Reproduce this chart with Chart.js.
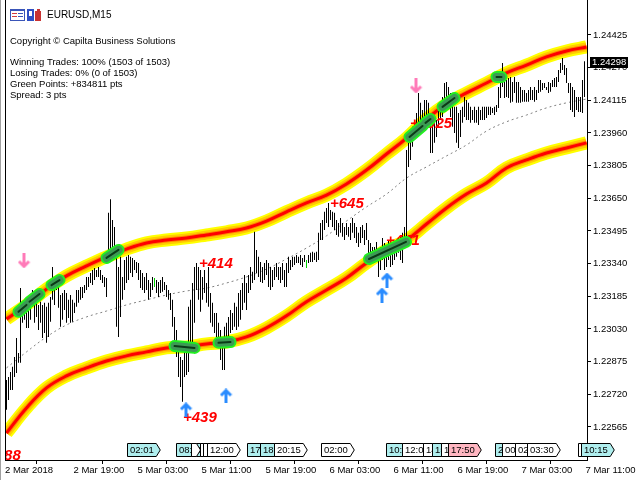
<!DOCTYPE html>
<html>
<head>
<meta charset="utf-8">
<script src="https://cdn.jsdelivr.net/npm/chart.js@4.4.0/dist/chart.umd.min.js"></script>
<style>
  html, body { margin: 0; padding: 0; background: #fff; }
  #wrap { width: 640px; height: 480px; position: relative; }
</style>
</head>
<body>
<div id="wrap"><canvas id="chart" width="640" height="480"></canvas></div>
<script>
const symbolTitle = 'EURUSD,M15';
const copyrightLine = 'Copyright \u00a9 Capilta Business Solutions';
const infoLines = ['Winning Trades: 100% (1503 of 1503)', 'Losing Trades: 0% (0 of 1503)', 'Green Points: +834811 pts', 'Spread: 3 pts'];

// M15 bars, index 0 = 2 Mar 11:00
const barHigh = [1.22788,1.22802,1.22826,1.22850,1.22897,1.22987,1.22916,1.23224,1.23154,1.23168,
 1.23135,1.23182,1.23154,1.23215,1.23201,1.23168,1.23144,1.23159,1.23144,1.23154,
 1.23135,1.23154,1.23182,1.23324,1.23272,1.23277,1.23229,1.23191,1.23201,1.23215,
 1.23201,1.23168,1.23191,1.23168,1.23154,1.23215,1.23215,1.23229,1.23229,1.23238,
 1.23277,1.23277,1.23296,1.23310,1.23319,1.23310,1.23324,1.23310,1.23286,1.23277,
 1.23272,1.23581,1.23646,1.23547,1.23514,1.23391,1.23324,1.23372,1.23277,1.23357,
 1.23372,1.23381,1.23372,1.23367,1.23357,1.23348,1.23343,1.23310,1.23296,1.23277,
 1.23296,1.23262,1.23248,1.23277,1.23272,1.23262,1.23253,1.23262,1.23277,1.23253,
 1.23238,1.23215,1.23201,1.23168,1.23087,1.23025,1.22964,1.22897,1.22883,1.22930,
 1.22964,1.23135,1.23168,1.23248,1.23324,1.23343,1.23324,1.23310,1.23277,1.23310,
 1.23248,1.23324,1.23201,1.23154,1.23106,1.23106,1.23059,1.23025,1.22992,1.23040,
 1.23059,1.23087,1.23120,1.23106,1.23154,1.23135,1.23201,1.23215,1.23248,1.23286,
 1.23248,1.23286,1.23324,1.23301,1.23491,1.23405,1.23372,1.23348,1.23324,1.23343,
 1.23357,1.23343,1.23324,1.23310,1.23324,1.23343,1.23324,1.23324,1.23343,1.23310,
 1.23343,1.23372,1.23357,1.23372,1.23372,1.23381,1.23372,1.23381,1.23367,1.23381,
 1.23357,1.23381,1.23391,1.23396,1.23391,1.23396,1.23486,1.23533,1.23547,1.23586,
 1.23604,1.23628,1.23595,1.23586,1.23581,1.23547,1.23533,1.23557,1.23533,1.23514,
 1.23533,1.23514,1.23533,1.23557,1.23533,1.23514,1.23486,1.23514,1.23523,1.23500,
 1.23533,1.23452,1.23438,1.23419,1.23419,1.23443,1.23405,1.23419,1.23462,1.23438,
 1.23419,1.23452,1.23419,1.23438,1.23443,1.23452,1.23462,1.23467,1.23486,1.23514,
 1.23879,1.23913,1.23960,1.23989,1.24022,1.24055,1.24150,1.24103,1.24069,1.24117,
 1.24117,1.24103,1.24055,1.24008,1.24036,1.24022,1.24069,1.24103,1.24131,1.24197,
 1.24202,1.24178,1.24150,1.24103,1.24084,1.24084,1.24055,1.24069,1.24084,1.24131,
 1.24117,1.24103,1.24084,1.24069,1.24084,1.24069,1.24084,1.24069,1.24084,1.24084,
 1.24084,1.24084,1.24084,1.24079,1.24084,1.24093,1.24178,1.24245,1.24292,1.24226,
 1.24211,1.24221,1.24226,1.24202,1.24226,1.24202,1.24202,1.24178,1.24164,1.24164,
 1.24150,1.24164,1.24178,1.24164,1.24178,1.24164,1.24211,1.24211,1.24197,1.24197,
 1.24178,1.24202,1.24197,1.24211,1.24221,1.24226,1.24259,1.24292,1.24316,1.24282,
 1.24268,1.24197,1.24197,1.24178,1.24164,1.24131,1.24131,1.24131,1.24211,1.24300];
const barLow = [1.22646,1.22693,1.22740,1.22740,1.22802,1.22821,1.22869,1.22869,1.23059,1.23073,
 1.23035,1.23035,1.23073,1.23135,1.23059,1.23087,1.23025,1.23059,1.22987,1.23011,
 1.22964,1.22992,1.23064,1.23168,1.23144,1.23215,1.23130,1.23040,1.23073,1.23120,
 1.23059,1.23082,1.23059,1.23064,1.23106,1.23135,1.23154,1.23168,1.23177,1.23201,
 1.23215,1.23229,1.23248,1.23238,1.23262,1.23277,1.23277,1.23262,1.23248,1.23229,
 1.23182,1.23357,1.23372,1.23405,1.23391,1.23040,1.22992,1.23087,1.23168,1.23215,
 1.23248,1.23262,1.23296,1.23277,1.23310,1.23296,1.23262,1.23224,1.23215,1.23201,
 1.23215,1.23168,1.23182,1.23215,1.23229,1.23201,1.23182,1.23201,1.23206,1.23215,
 1.23182,1.23168,1.23120,1.23040,1.22945,1.22897,1.22802,1.22755,1.22684,1.22802,
 1.22811,1.22826,1.22945,1.22945,1.23059,1.23215,1.23168,1.23111,1.23168,1.23201,
 1.23154,1.23135,1.23059,1.23040,1.23011,1.22992,1.22945,1.22883,1.22835,1.22835,
 1.22945,1.22978,1.23011,1.23025,1.23040,1.23025,1.23040,1.23073,1.23120,1.23154,
 1.23120,1.23201,1.23215,1.23248,1.23262,1.23296,1.23277,1.23253,1.23248,1.23262,
 1.23286,1.23229,1.23215,1.23229,1.23262,1.23277,1.23262,1.23248,1.23262,1.23229,
 1.23229,1.23296,1.23310,1.23324,1.23333,1.23343,1.23343,1.23333,1.23324,1.23348,
 1.23319,1.23343,1.23348,1.23348,1.23357,1.23348,1.23357,1.23452,1.23452,1.23500,
 1.23533,1.23514,1.23547,1.23514,1.23500,1.23476,1.23467,1.23486,1.23467,1.23452,
 1.23476,1.23467,1.23452,1.23486,1.23462,1.23438,1.23419,1.23438,1.23462,1.23428,
 1.23452,1.23372,1.23367,1.23348,1.23343,1.23357,1.23277,1.23310,1.23357,1.23310,
 1.23324,1.23357,1.23324,1.23333,1.23357,1.23372,1.23391,1.23357,1.23343,1.23419,
 1.23452,1.23799,1.23832,1.23894,1.23927,1.23941,1.23989,1.23989,1.23960,1.23974,
 1.23989,1.24008,1.23865,1.23865,1.23913,1.23941,1.23989,1.24022,1.24036,1.24084,
 1.24103,1.24103,1.24036,1.23989,1.23960,1.23913,1.23889,1.23941,1.24008,1.24036,
 1.24022,1.24022,1.24008,1.24022,1.24008,1.24008,1.23998,1.24022,1.24022,1.24022,
 1.24031,1.24045,1.24045,1.24055,1.24045,1.24060,1.24079,1.24126,1.24178,1.24126,
 1.24131,1.24126,1.24103,1.24108,1.24150,1.24103,1.24103,1.24103,1.24108,1.24108,
 1.24108,1.24108,1.24117,1.24117,1.24108,1.24117,1.24150,1.24155,1.24164,1.24173,
 1.24164,1.24150,1.24155,1.24178,1.24178,1.24178,1.24202,1.24245,1.24259,1.24235,
 1.24197,1.24150,1.24069,1.24060,1.24036,1.24069,1.24060,1.24060,1.24055,1.24131];
const greenBars = [74, 150];
const lastPrice = 1.24298;

// channel lines sampled every 10 bars
const bandK = [0,10,20,30,40,50,60,70,80,90,100,110,120,130,140,150,160,170,180,190,200,210,220,230,240,250,260,270,280,290];
const upperBand = [1.23077,1.23144,1.23219,1.23282,1.23329,1.23372,1.23409,1.23438,1.23452,1.23462,1.23476,1.23491,1.23509,1.23542,1.23586,1.23628,1.23665,1.23718,1.23784,1.23860,1.23936,1.24026,1.24098,1.24150,1.24197,1.24245,1.24282,1.24321,1.24349,1.24368];
const lowerBand = [1.22536,1.22655,1.22750,1.22807,1.22845,1.22878,1.22902,1.22921,1.22940,1.22945,1.22959,1.22968,1.22992,1.23035,1.23092,1.23159,1.23215,1.23272,1.23343,1.23405,1.23452,1.23528,1.23604,1.23670,1.23723,1.23794,1.23832,1.23865,1.23889,1.23913];
const midLine = [1.22845,1.22921,1.22992,1.23049,1.23087,1.23115,1.23144,1.23168,1.23191,1.23210,1.23224,1.23248,1.23277,1.23314,1.23362,1.23414,1.23472,1.23542,1.23609,1.23670,1.23746,1.23799,1.23851,1.23903,1.23969,1.24013,1.24045,1.24079,1.24103,1.24121];

// green touch marks: [startBar, startPrice, endBar, endPrice]
const touchMarks = [
  [6, 1.23111, 10, 1.23144], [11.5, 1.23159, 16.5, 1.23196], [22.5, 1.23238, 26.5, 1.23262],
  [50, 1.23367, 56, 1.23405], [201.5, 1.23941, 208, 1.23993], [209.5, 1.24008, 212, 1.24026],
  [218, 1.24084, 224, 1.24126], [245, 1.24226, 247.5, 1.24226],
  [84, 1.22949, 94, 1.22940], [106, 1.22964, 112, 1.22968], [181.25, 1.23362, 199.75, 1.23443]
];

const buyArrowK = [89.75, 109.75, 187.75, 190.25];
const buyArrowP = [1.22646, 1.22712, 1.23191, 1.23262];
const sellArrowK = [8.75, 204.75];
const sellArrowP = [1.23353, 1.24183];

const profitText = ['+388', '+439', '+414', '+645', '+441', '+1025'];
const profitK = [-9.75, 88.25, 96.25, 161.75, 189.75, 201.75];
const profitP = [1.22427, 1.22608, 1.23338, 1.23623, 1.23448, 1.24003];

const priceTicks = [1.22565,1.22720,1.22875,1.23030,1.23185,1.23340,1.23495,1.23650,1.23805,1.23960,1.24115,1.24270,1.24425];
const timeTickK = [-2.25, 32, 64, 96, 128, 160, 192, 224, 256, 288];
const timeTickLabels = ['2 Mar 2018','2 Mar 19:00','5 Mar 03:00','5 Mar 11:00','5 Mar 19:00','6 Mar 03:00','6 Mar 11:00','6 Mar 19:00','7 Mar 03:00','7 Mar 11:00'];

// vertical line labels along the bottom
const markerK = [60, 84.5, 92, 96.5, 98, 100, 120, 126.5, 133.5, 157, 189.5, 197.5, 208, 212.5, 217, 220.5, 244, 247.5, 254, 260, 285.5, 287];
const markerText = ['02:01','08:00','','','','12:00','17:00','18:30','20:15','02:00','10:15','12:00','14:30','15:45','16:45','17:50','23:45','00:30','02:00','03:30','','10:15'];
const markerKind = ['c','c','w','w','w','w','c','c','w','w','c','w','w','c','w','p','c','w','w','w','w','c'];

const uiFont = '"Liberation Sans", Arial, sans-serif';
const uiSize = 9.5;
const markerFill = { c: '#afeeee', w: '#ffffff', p: '#ffb6c1' };

function pts(k, p) { return k.map((v, i) => ({ x: v, y: p[i] })); }

function bandSets(values, order) {
  const tiers = [['#ffff00', 13], ['#ffcc00', 9], ['#ff8800', 5], ['#ff0000', 3]];
  return tiers.map((t, i) => ({
    type: 'line', data: pts(bandK, values), borderColor: t[0], borderWidth: t[1],
    pointRadius: 0, tension: 0.4, fill: false, clip: 0, order: order - i
  }));
}

function touchData() {
  const out = [];
  touchMarks.forEach(m => {
    out.push({ x: m[0], y: m[1] }, { x: m[2], y: m[3] }, { x: m[2] + 0.01, y: null });
  });
  return out;
}

function arrowImage(color, up) {
  const c = document.createElement('canvas');
  c.width = 13; c.height = 15;
  const g = c.getContext('2d');
  g.strokeStyle = color; g.lineWidth = 3; g.lineJoin = 'miter';
  g.beginPath();
  if (up) { g.moveTo(6.5, 2); g.lineTo(6.5, 15); g.moveTo(1.5, 7); g.lineTo(6.5, 2); g.lineTo(11.5, 7); }
  else { g.moveTo(6.5, 0); g.lineTo(6.5, 13); g.moveTo(1.5, 8); g.lineTo(6.5, 13); g.lineTo(11.5, 8); }
  g.stroke();
  return c;
}

const overlay = {
  id: 'overlay',
  afterDatasetDraw(chart, args) {
    if (chart.data.datasets[args.index].label !== 'bars') return;
    const { ctx, chartArea: a, scales: { x, y } } = chart;
    ctx.save();
    ctx.beginPath();
    ctx.rect(a.left - 1, a.top, a.right - a.left + 1, a.bottom - a.top);
    ctx.clip();
    ctx.font = 'italic bold 15px "Liberation Sans", Arial, sans-serif';
    ctx.fillStyle = '#ff0000';
    ctx.textBaseline = 'middle';
    profitText.forEach((t, i) => ctx.fillText(t, x.getPixelForValue(profitK[i]), y.getPixelForValue(profitP[i])));
    ctx.restore();
  },
  afterDraw(chart) {
    const { ctx, chartArea: a, scales: { x, y } } = chart;
    ctx.save();
    // left frame
    ctx.fillStyle = '#000';
    ctx.fillRect(5, 0, 1, a.bottom + 1);
    ctx.fillStyle = '#a0a0a0';
    ctx.fillRect(0, 0, 1, 480);

    // header icons
    ctx.fillStyle = '#fff'; ctx.strokeStyle = '#3a55b8';
    ctx.fillRect(10, 9, 14, 11); ctx.strokeRect(10.5, 9.5, 14, 11);
    ctx.fillStyle = '#3a55b8'; ctx.fillRect(10, 9, 15, 2);
    ctx.fillStyle = '#d23c3c'; ctx.fillRect(12, 13, 5, 1); ctx.fillRect(12, 16, 5, 1);
    ctx.fillStyle = '#3a55b8'; ctx.fillRect(18, 13, 5, 1); ctx.fillRect(18, 16, 5, 1);
    ctx.fillStyle = '#2f4fc4'; ctx.fillRect(27, 9, 7, 12);
    ctx.fillStyle = '#fff'; ctx.fillRect(29, 11, 3, 5);
    ctx.fillStyle = '#c83232'; ctx.fillRect(35, 11, 6, 10); ctx.fillRect(37, 9, 3, 3);

    // header text
    ctx.fillStyle = '#000';
    ctx.textBaseline = 'middle';
    ctx.font = '10px ' + uiFont;
    ctx.fillText(symbolTitle, 47, 15.5);
    ctx.font = uiSize + 'px ' + uiFont;
    ctx.fillText(copyrightLine, 10, 41.5);
    infoLines.forEach((t, i) => ctx.fillText(t, 10, 62.5 + 11.1 * i));

    // vertical line labels
    const top = a.bottom - 16.5, h = 13, mid = top + h / 2;
    markerK.forEach((k, i) => {
      const px = Math.round(x.getPixelForValue(k)) + 0.5;
      const t = markerText[i];
      const w = t ? ctx.measureText(t).width + 5 : 5;
      ctx.beginPath();
      ctx.moveTo(px, top); ctx.lineTo(px + w, top); ctx.lineTo(px + w + 4, mid);
      ctx.lineTo(px + w, top + h); ctx.lineTo(px, top + h); ctx.closePath();
      ctx.fillStyle = markerFill[markerKind[i]];
      ctx.fill();
      ctx.strokeStyle = '#000'; ctx.lineWidth = 1; ctx.stroke();
      ctx.fillStyle = '#000';
      ctx.fillText(t, px + 2.5, mid + 0.5);
    });

    // current price tag
    const py = Math.round(y.getPixelForValue(lastPrice));
    ctx.fillStyle = '#000';
    ctx.fillRect(590, py - 5, 38, 11);
    ctx.fillStyle = '#fff';
    ctx.fillText(lastPrice.toFixed(5), 592, py + 0.5);
    ctx.restore();
  }
};

const ctx = document.getElementById('chart').getContext('2d');
new Chart(ctx, {
  type: 'bar',
  data: {
    datasets: [
      ...bandSets(upperBand, 20),
      ...bandSets(lowerBand, 20),
      { type: 'line', data: pts(bandK, midLine), borderColor: '#808080', borderWidth: 1, borderDash: [2, 3],
        pointRadius: 0, tension: 0.4, fill: false, clip: 0, order: 12 },
      { type: 'bar', label: 'bars', data: barHigh.map((hi, i) => ({ x: i, y: [barLow[i], hi] })),
        backgroundColor: c => greenBars.includes(c.dataIndex) ? '#00d000' : '#000000',
        barThickness: 1, inflateAmount: 0, borderWidth: 0, clip: 0, order: 10 },
      { type: 'line', data: touchData(), borderColor: '#22ee22', borderWidth: 12, borderCapStyle: 'round',
        pointRadius: 0, spanGaps: false, clip: 0, order: 5 },
      { type: 'line', data: touchData(), borderColor: '#3c9a54', borderWidth: 8, borderCapStyle: 'round',
        pointRadius: 0, spanGaps: false, clip: 0, order: 4 },
      { type: 'line', data: touchData(), borderColor: '#0b3b17', borderWidth: 2, borderCapStyle: 'round',
        pointRadius: 0, spanGaps: false, clip: 0, order: 3 },
      { type: 'line', data: pts(buyArrowK, buyArrowP), showLine: false, pointStyle: arrowImage('#2a8cff', true),
        pointRadius: 6, clip: 0, order: 1 },
      { type: 'line', data: pts(sellArrowK, sellArrowP), showLine: false, pointStyle: arrowImage('#ff7ab8', false),
        pointRadius: 6, clip: 0, order: 1 }
    ]
  },
  options: {
    responsive: false,
    animation: false,
    events: [],
    layout: { autoPadding: false, padding: { left: 6, top: 0, right: 0, bottom: 0 } },
    plugins: { legend: { display: false }, tooltip: { enabled: false } },
    scales: {
      x: {
        type: 'linear', min: -0.25, max: 290.25, offset: false,
        grid: { drawOnChartArea: false, drawTicks: true, tickLength: 4, color: '#000' },
        border: { color: '#000', width: 1 },
        afterBuildTicks: s => { s.ticks = timeTickK.map(v => ({ value: v })); },
        afterFit: s => { s.height = 20; s.paddingLeft = 0; s.paddingRight = 0; },
        ticks: { autoSkip: false, maxRotation: 0, align: 'start', labelOffset: 3, padding: 1,
          color: '#000', font: { family: uiFont, size: uiSize },
          callback: (v, i) => timeTickLabels[i] }
      },
      y: {
        type: 'linear', position: 'right', min: 1.22408, max: 1.24591,
        grid: { drawOnChartArea: false, drawTicks: true, tickLength: 4, color: '#000' },
        border: { color: '#000', width: 1 },
        afterBuildTicks: s => { s.ticks = priceTicks.map(v => ({ value: v })); },
        afterFit: s => { s.width = 53; s.paddingTop = 0; s.paddingBottom = 0; },
        ticks: { padding: 2, color: '#000', font: { family: uiFont, size: uiSize },
          callback: v => v.toFixed(5) }
      }
    }
  },
  plugins: [overlay]
});
</script>
</body>
</html>
